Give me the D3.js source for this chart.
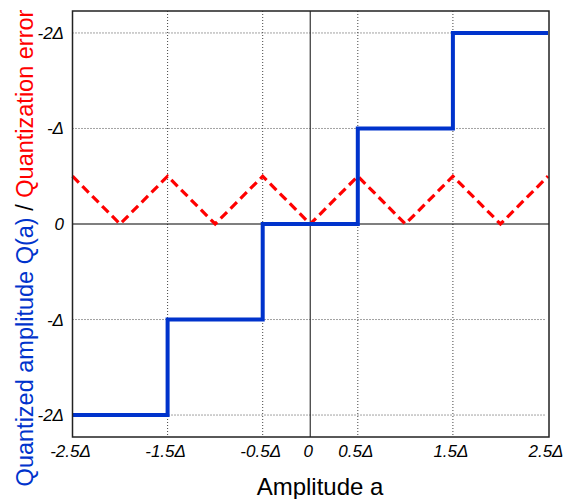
<!DOCTYPE html>
<html><head><meta charset="utf-8">
<script src="https://cdn.jsdelivr.net/npm/d3@7"></script>
<style>body{margin:0;background:#fff}</style>
</head><body>
<svg id="c" width="565" height="499"></svg>
<script>
const xTicks = [-2.5, -1.5, -0.5, 0, 0.5, 1.5, 2.5];
const xTickLabels = ["-2.5Δ", "-1.5Δ", "-0.5Δ", "0", "0.5Δ", "1.5Δ", "2.5Δ"];
const yTicks = [2, 1, 0, -1, -2];
const yTickLabels = ["-2Δ", "-Δ", "0", "-Δ", "-2Δ"];
const xGrid = [-1.5, -0.5, 0.5, 1.5];
const yGrid = [-2, -1, 1, 2];
const stepA = [-2.5, -1.5, -1.5, -0.5, -0.5, 0.5, 0.5, 1.5, 1.5, 2.5];
const stepQ = [-2, -2, -1, -1, 0, 0, 1, 1, 2, 2];
const errA = [-2.5, -2, -1.5, -1, -0.5, 0, 0.5, 1, 1.5, 2, 2.5];
const errE = [0.5, 0, 0.5, 0, 0.5, 0, 0.5, 0, 0.5, 0, 0.5];

const svg = d3.select("#c");
const L = 72.5, R = 549, T = 11, B = 437;
const x = d3.scaleLinear().domain([-2.5, 2.5]).range([L, R - 1]);
const y = d3.scaleLinear().domain([-2.23, 2.23]).range([B, T]);
const font = "'Liberation Sans', Arial, sans-serif";

// grid
svg.append("g").selectAll("line").data(xGrid).join("line")
  .attr("x1", d => x(d)).attr("x2", d => x(d)).attr("y1", T).attr("y2", B)
  .attr("stroke", "#444").attr("stroke-width", 1).attr("stroke-dasharray", "1,2");
svg.append("g").selectAll("line").data(yGrid).join("line")
  .attr("y1", d => y(d)).attr("y2", d => y(d)).attr("x1", L).attr("x2", R - 3)
  .attr("stroke", "#444").attr("stroke-width", 1).attr("stroke-dasharray", "1,2");

// zero axes
svg.append("line").attr("x1", x(0)).attr("x2", x(0)).attr("y1", T).attr("y2", B)
  .attr("stroke", "#333").attr("stroke-width", 1.2);
svg.append("line").attr("x1", L).attr("x2", R).attr("y1", y(0)).attr("y2", y(0))
  .attr("stroke", "#000").attr("stroke-width", 1.2);

// error
const errLine = d3.line().x((d, i) => x(errA[i])).y(d => y(d));
svg.append("path").attr("d", errLine(errE)).attr("fill", "none")
  .attr("stroke", "#ff0000").attr("stroke-width", 3.2).attr("stroke-dasharray", "9,5");

// step
const stepLine = d3.line().x((d, i) => x(stepA[i])).y(d => y(d));
svg.append("path").attr("d", stepLine(stepQ)).attr("fill", "none")
  .attr("stroke", "#0033cc").attr("stroke-width", 4);

// border
svg.append("rect").attr("x", L).attr("y", T).attr("width", R - L).attr("height", B - T)
  .attr("fill", "none").attr("stroke", "#222").attr("stroke-width", 1.5);

// tick labels
svg.append("g").selectAll("text").data(xTicks).join("text")
  .attr("x", d => x(d) - 2).attr("y", 457).attr("text-anchor", "middle")
  .attr("font-family", font).attr("font-style", "italic").attr("font-size", 17)
  .text((d, i) => xTickLabels[i]);
svg.append("g").selectAll("text").data(yTicks).join("text")
  .attr("x", 64).attr("y", d => y(d) + 6).attr("text-anchor", "end")
  .attr("font-family", font).attr("font-style", "italic").attr("font-size", 17)
  .text((d, i) => yTickLabels[i]);

// axis titles
svg.append("text").attr("x", 320).attr("y", 495).attr("text-anchor", "middle")
  .attr("font-family", font).attr("font-size", 24).text("Amplitude a");

const yt = svg.append("text").attr("transform", "translate(33,248) rotate(-90)")
  .attr("text-anchor", "middle").attr("font-family", font).attr("font-size", 23.5);
yt.append("tspan").attr("fill", "#0033cc").text("Quantized amplitude Q(a)");
yt.append("tspan").attr("fill", "#000").text(" / ");
yt.append("tspan").attr("fill", "#ff0000").text("Quantization error");
</script>
</body></html>
